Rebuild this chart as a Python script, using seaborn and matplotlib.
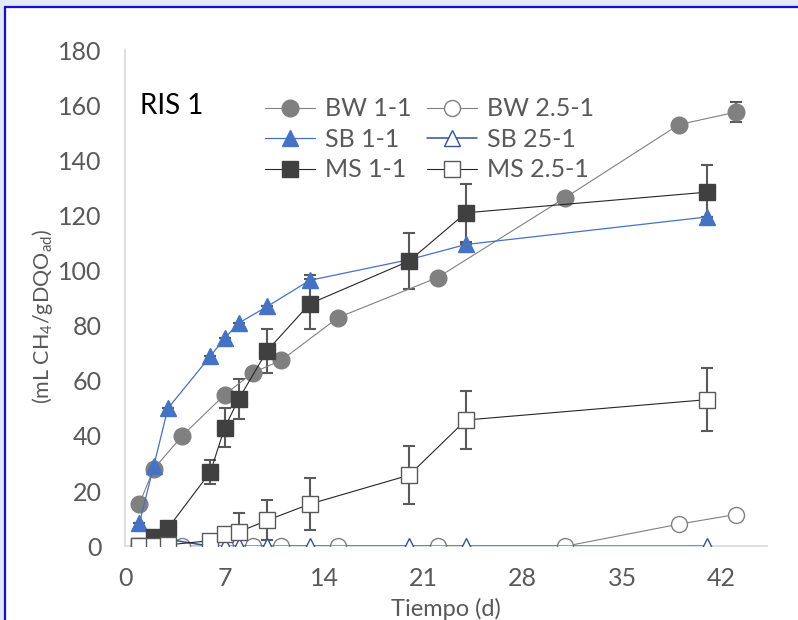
import numpy as np
import pandas as pd
import matplotlib
matplotlib.use('Agg')
import matplotlib.pyplot as plt
import matplotlib.patches as mpatches
import seaborn as sns

# --- data ---
bw_x = [1, 2, 4, 7, 9, 11, 15, 22, 31, 39, 43]
bw11_y = [15.5, 28, 40, 55, 63, 67.5, 83, 97.5, 126.5, 153, 157.5]
bw11_err = [0, 0, 0, 0, 0, 0, 0, 0, 0, 0, 3.7]
bw25_y = [0, 0, 0, 0, 0, 0, 0, 0, 0, 8, 11.5]

sb_x = [1, 2, 3, 6, 7, 8, 10, 13, 20, 24, 41]
sb11_y = [8.5, 29, 50, 69, 75.5, 81, 87, 96.5, 104, 109.5, 119.5]
sb11_err = [0, 0, 0, 0, 0, 0, 0, 2, 0, 0, 0]
sb25_y = [0, 1, 2.5, 0, 0, 0, 0, 0, 0, 0, 0]

ms_x = [1, 2, 3, 6, 7, 8, 10, 13, 20, 24, 41]
ms11_y = [0, 3.3, 6.5, 27, 43, 53.5, 71, 88, 103.5, 121, 128.5]
ms11_err = [0, 0, 0, 4.4, 7, 7.3, 8, 9, 10.3, 10.5, 10]
ms25_y = [0, 0, 0.5, 2, 4.4, 5.2, 9.4, 15.3, 25.8, 45.8, 53.2]
ms25_err = [0, 0, 0, 0, 0, 7, 7.3, 9.5, 10.5, 10.5, 11.5]

x_ticks = [0, 7, 14, 21, 28, 35, 42]
y_ticks = list(range(0, 181, 20))

sns.set_theme(style='white')
plt.rcParams['font.family'] = ['Lato', 'DejaVu Sans']
plt.rcParams['mathtext.fontset'] = 'custom'
plt.rcParams['mathtext.rm'] = 'Lato'
plt.rcParams['mathtext.it'] = 'Lato'

TXT = '#595959'
FS = 18
fig = plt.figure(figsize=(7.98, 6.2), dpi=100)
ax = fig.add_axes([0.157, 0.119, 0.804, 0.80])

series = [
    ('BW 1-1', bw_x, bw11_y, bw11_err, dict(color='#808080', marker='o', mfc='#808080', mec='#808080', ms=12, lw=0.8)),
    ('BW 2.5-1', bw_x, bw25_y, None, dict(color='#808080', marker='o', mfc='white', mec='#808080', ms=11.5, lw=0.8)),
    ('SB 1-1', sb_x, sb11_y, sb11_err, dict(color='#4472C4', marker='^', mfc='#4472C4', mec='#4472C4', ms=12, lw=0.9)),
    ('SB 25-1', sb_x, sb25_y, None, dict(color='#2F5597', marker='^', mfc='white', mec='#2F5597', ms=12, lw=1.1)),
    ('MS 1-1', ms_x, ms11_y, ms11_err, dict(color='#262626', marker='s', mfc='#404040', mec='#404040', ms=12, lw=0.8)),
    ('MS 2.5-1', ms_x, ms25_y, ms25_err, dict(color='#262626', marker='s', mfc='white', mec='#595959', ms=12, lw=0.8)),
]

handles = {}
for name, xs, ys, err, st in series:
    df = pd.DataFrame({'x': xs, 'y': ys})
    sns.lineplot(data=df, x='x', y='y', ax=ax, color=st['color'], lw=st['lw'],
                 marker=st['marker'], markersize=st['ms'], markerfacecolor=st['mfc'],
                 markeredgecolor=st['mec'], markeredgewidth=1.0, zorder=3)
    if err is not None:
        ax.errorbar(xs, ys, yerr=err, fmt='none', ecolor='#595959', elinewidth=1.5,
                    capsize=4.5, capthick=1.5, zorder=2)
    handles[name] = plt.Line2D([], [], color=st['color'], lw=st['lw'], marker=st['marker'],
                               markersize=st['ms'], markerfacecolor=st['mfc'],
                               markeredgecolor=st['mec'])

order = ['BW 1-1', 'SB 1-1', 'MS 1-1', 'BW 2.5-1', 'SB 25-1', 'MS 2.5-1']
leg = ax.legend([handles[k] for k in order], order, ncol=2, loc='upper left',
                bbox_to_anchor=(0.218, 0.905), frameon=False, fontsize=FS,
                borderpad=0, borderaxespad=0,
                handlelength=2.0, columnspacing=0.6, labelspacing=0.3, handletextpad=0.4)
for t in leg.get_texts():
    t.set_color(TXT)

ax.text(0.023, 0.887, 'RIS 1', transform=ax.transAxes, fontsize=20, color='black', va='center')

ax.set_xlim(0, 45.2)
ax.set_ylim(0, 180)
ax.set_xticks(x_ticks)
ax.set_yticks(y_ticks)
ax.tick_params(axis='both', labelsize=FS, colors=TXT, length=0)
ax.tick_params(axis='x', pad=15)
ax.tick_params(axis='y', pad=17)
ax.set_xlabel('Tiempo (d)', fontsize=17, color=TXT)
ax.xaxis.set_label_coords(0.5, -0.104)
ax.set_ylabel(r'(mL CH$_4$/gDQO$_{ad}$)', fontsize=15.5, color=TXT)
ax.yaxis.set_label_coords(-0.11, 0.464)

for s in ['top', 'right']:
    ax.spines[s].set_visible(False)
ax.spines['left'].set_color('#D9D9D9')
ax.spines['bottom'].set_color('#D9D9D9')
ax.spines['left'].set_linewidth(1.2)
ax.spines['bottom'].set_linewidth(1.2)

# selection frame of the screenshot
fig.patches.append(mpatches.Rectangle((0, 0.988), 1, 0.012, transform=fig.transFigure,
                                      color='#E4E9F6', zorder=0))
fig.patches.append(mpatches.Rectangle((0, 0), 0.005, 1, transform=fig.transFigure,
                                      color='#E4E9F6', zorder=0))
fig.lines.append(plt.Line2D([0.0065, 1], [0.989, 0.989], transform=fig.transFigure,
                            color='#1010E0', lw=1.6))
fig.lines.append(plt.Line2D([0.0065, 0.0065], [0, 0.989], transform=fig.transFigure,
                            color='#1010E0', lw=1.6))

fig.savefig('out.png', dpi=100)
